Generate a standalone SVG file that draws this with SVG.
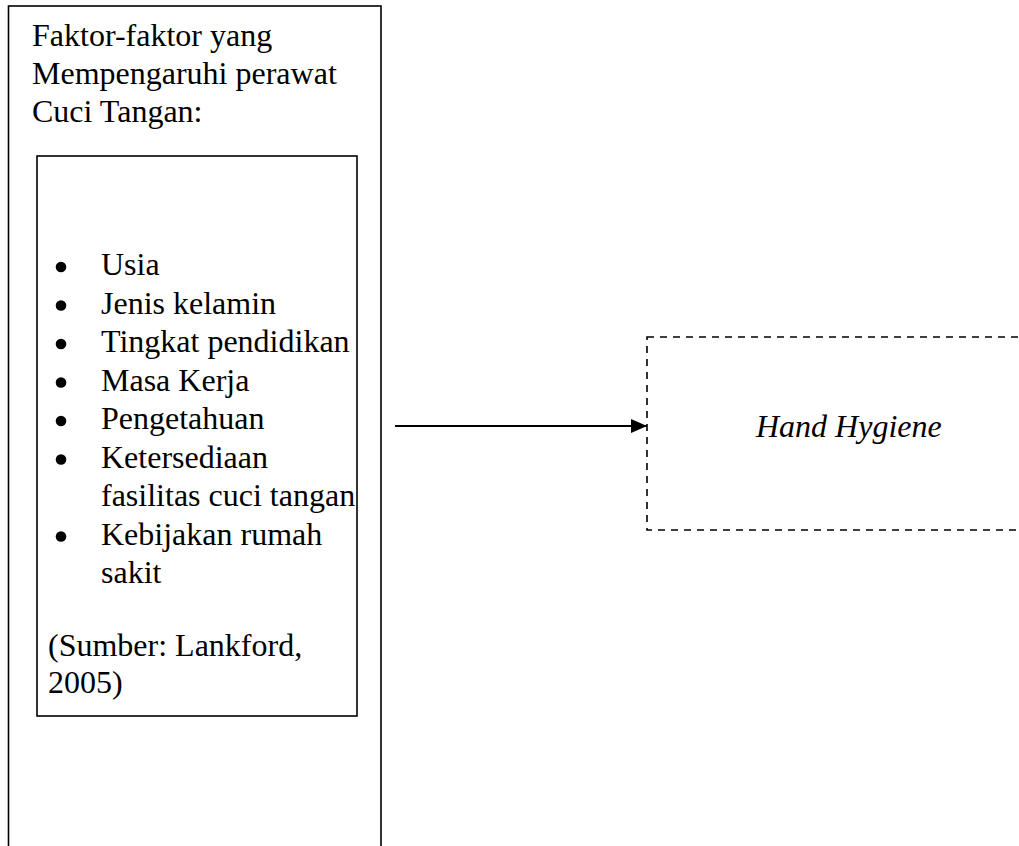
<svg xmlns="http://www.w3.org/2000/svg" width="1019" height="846" viewBox="0 0 1019 846">
<style>
text{font-family:"Liberation Serif","Times New Roman",serif;font-size:32px;fill:#000}
.box{fill:none;stroke:#000;stroke-width:1.6}
.dash{fill:none;stroke:#000;stroke-width:1.6;stroke-dasharray:7 6}
.it{font-style:italic}
</style>
<defs>
<marker id="ah" viewBox="0 0 16 14" refX="16" refY="7" markerWidth="16" markerHeight="14" markerUnits="userSpaceOnUse" orient="auto">
<path d="M0,0 L16,7 L0,14 Z" fill="#000"/>
</marker>
</defs>
<rect width="1019" height="846" fill="#fff"/>
<g id="factors">
<rect class="box" x="8.5" y="6" width="372.5" height="860"/>
<text x="32" y="46">Faktor-faktor yang</text>
<text x="32" y="84">Mempengaruhi perawat</text>
<text x="32" y="122">Cuci Tangan:</text>
</g>
<g id="list">
<rect class="box" x="37" y="156" width="320" height="560"/>
<g fill="#000">
<circle cx="61" cy="267" r="5.3"/>
<circle cx="61" cy="305.5" r="5.3"/>
<circle cx="61" cy="344" r="5.3"/>
<circle cx="61" cy="382.5" r="5.3"/>
<circle cx="61" cy="421" r="5.3"/>
<circle cx="61" cy="459.5" r="5.3"/>
<circle cx="61" cy="536.5" r="5.3"/>
</g>
<text x="101" y="275">Usia</text>
<text x="101" y="313.5">Jenis kelamin</text>
<text x="101" y="352">Tingkat pendidikan</text>
<text x="101" y="390.5">Masa Kerja</text>
<text x="101" y="429">Pengetahuan</text>
<text x="101" y="467.5">Ketersediaan</text>
<text x="101" y="506">fasilitas cuci tangan</text>
<text x="101" y="544.5">Kebijakan rumah</text>
<text x="101" y="583">sakit</text>
<text x="48" y="656">(Sumber: Lankford,</text>
<text x="48" y="693">2005)</text>
</g>
<g id="hand-hygiene">
<rect class="dash" x="647" y="337" width="400" height="193"/>
<text class="it" x="756" y="437">Hand Hygiene</text>
</g>
<g id="connectors">
<line x1="395" y1="426" x2="647" y2="426" stroke="#000" stroke-width="2" marker-end="url(#ah)"/>
</g>
</svg>
